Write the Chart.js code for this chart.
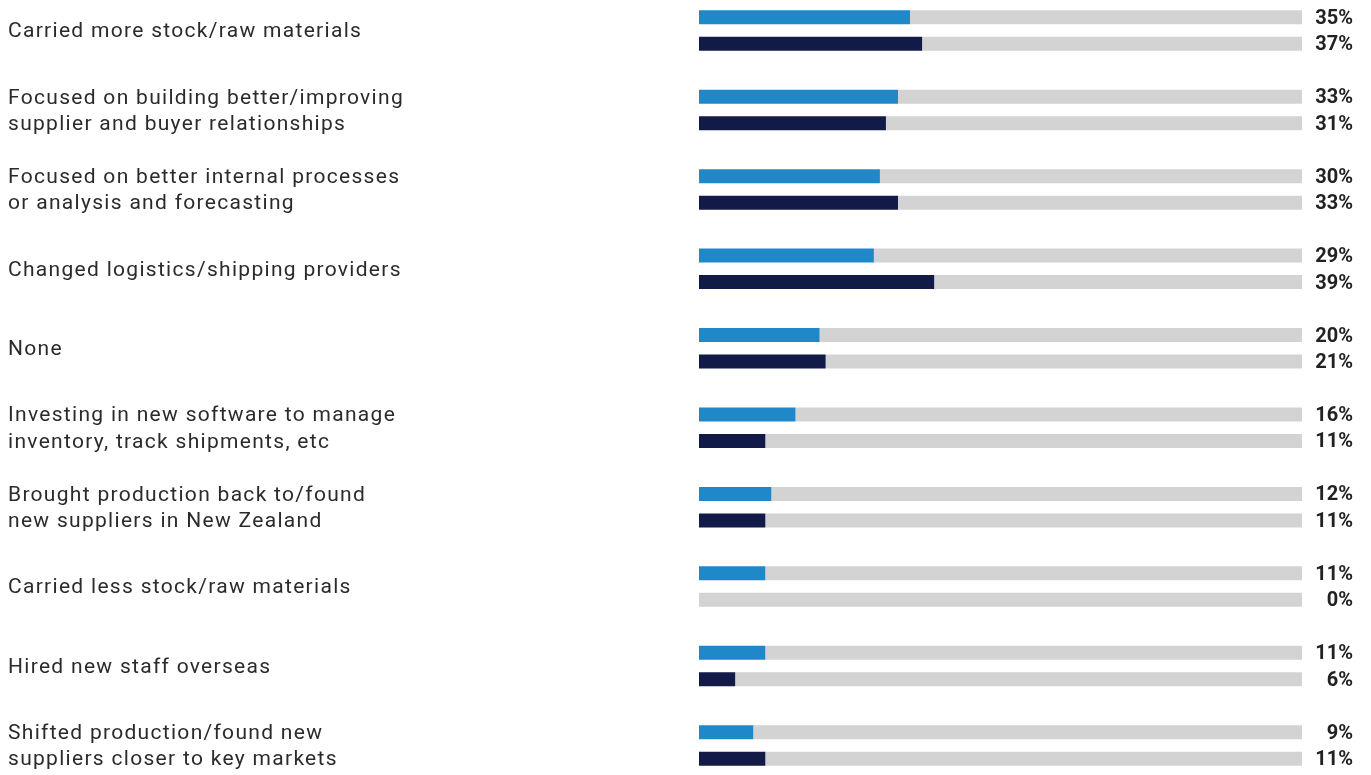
<!DOCTYPE html>
<html>
<head>
<meta charset="utf-8">
<script src="https://cdn.jsdelivr.net/npm/chart.js@4"></script>
<style>
  html, body { margin: 0; padding: 0; background: #fff; }
  #wrap { width: 1371px; height: 775px; }
</style>
</head>
<body>
<div id="wrap"><canvas id="actions"></canvas></div>
<script>
// Actions taken by businesses, two survey years side by side
const categories = [
  ['Carried more stock/raw materials'],
  ['Focused on building better/improving', 'supplier and buyer relationships'],
  ['Focused on better internal processes', 'or analysis and forecasting'],
  ['Changed logistics/shipping providers'],
  ['None'],
  ['Investing in new software to manage', 'inventory, track shipments, etc'],
  ['Brought production back to/found', 'new suppliers in New Zealand'],
  ['Carried less stock/raw materials'],
  ['Hired new staff overseas'],
  ['Shifted production/found new', 'suppliers closer to key markets']
];
const seriesA = [35, 33, 30, 29, 20, 16, 12, 11, 11, 9];
const seriesB = [37, 31, 33, 39, 21, 11, 11, 0, 6, 11];
const fullScale = 100;

const blue = '#1f88c9';
const navy = '#121b48';
const track = '#d3d3d3';

// wider tracking for the category text
const tracking = {
  id: 'tracking',
  beforeDraw(chart) {
    chart.ctx.letterSpacing = '1.3px';
  }
};

// right-aligned percentage next to each track
const valueLabels = {
  id: 'valueLabels',
  afterDatasetsDraw(chart) {
    const ctx = chart.ctx;
    ctx.save();
    ctx.letterSpacing = '0px';
    ctx.font = 'bold 20px Roboto';
    ctx.fillStyle = '#222';
    ctx.textAlign = 'right';
    ctx.textBaseline = 'middle';
    [0, 1].forEach(di => {
      const meta = chart.getDatasetMeta(di);
      const vals = chart.data.datasets[di].data;
      meta.data.forEach((bar, i) => {
        ctx.fillText(vals[i] + '%', 1353, bar.y + 1.5);
      });
    });
    ctx.restore();
  }
};

new Chart(document.getElementById('actions'), {
  type: 'bar',
  data: {
    labels: categories,
    datasets: [
      { data: seriesA, backgroundColor: blue, stack: 'a' },
      { data: seriesB, backgroundColor: navy, stack: 'b' },
      { data: seriesA.map(v => fullScale - v), backgroundColor: track, stack: 'a' },
      { data: seriesB.map(v => fullScale - v), backgroundColor: track, stack: 'b' }
    ]
  },
  options: {
    indexAxis: 'y',
    responsive: true,
    maintainAspectRatio: false,
    animation: false,
    categoryPercentage: 0.667,
    barPercentage: 0.528,
    clip: false,
    layout: { padding: { left: 8, right: 69, top: 30.5, bottom: 29.5 } },
    plugins: { legend: { display: false }, tooltip: { enabled: false } },
    scales: {
      x: { display: false, stacked: true, min: 0, max: fullScale },
      y: {
        stacked: true,
        offset: false,
        grid: { display: false },
        border: { display: false },
        afterFit(scale) { scale.width = 691; },
        ticks: {
          crossAlign: 'far',
          autoSkip: false,
          labelOffset: 1.5,
          color: '#2b2b2b',
          font: { family: 'Roboto', size: 21, lineHeight: 1.25 }
        }
      }
    }
  },
  plugins: [tracking, valueLabels]
});
</script>
</body>
</html>
